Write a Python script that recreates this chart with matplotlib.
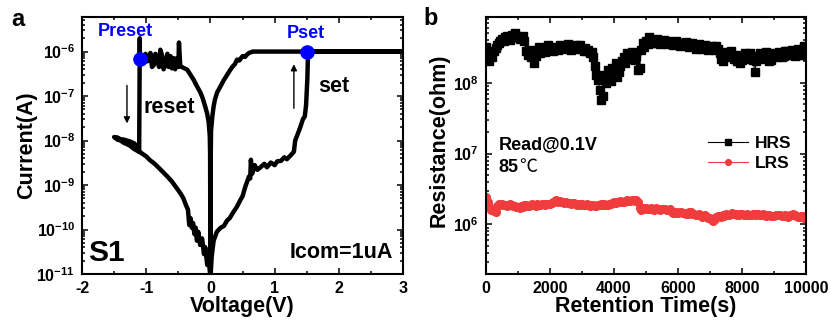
import numpy as np
import matplotlib
matplotlib.use('Agg')
import matplotlib.pyplot as plt
from matplotlib.ticker import FuncFormatter, MultipleLocator, NullFormatter

plt.rcParams['font.family'] = ['Liberation Sans', 'DejaVu Sans']
plt.rcParams['font.weight'] = 'bold'
plt.rcParams['axes.labelweight'] = 'bold'
plt.rcParams['mathtext.fontset'] = 'custom'
plt.rcParams['mathtext.bf'] = 'Liberation Sans:bold'
plt.rcParams['mathtext.rm'] = 'Liberation Sans:bold'
plt.rcParams['axes.unicode_minus'] = False

# ---- panel a : I-V sweep (0 -> 3 V -> 0 -> -1.5 V -> 0) ----
voltage = [0.00, 0.02, 0.05, 0.10, 0.16, 0.21, 0.26, 0.30, 0.36, 0.41,
           0.47, 0.50, 0.545, 0.60, 0.62, 0.63, 0.65, 0.69, 0.73, 0.78,
           0.84, 0.88, 0.94, 1.00, 1.04, 1.10, 1.15, 1.19, 1.24, 1.30,
           1.32, 1.36, 1.40, 1.44, 1.47, 1.49, 1.51, 1.52, 3.00,
           # back from 3 V (LRS)
           0.66, 0.60, 0.56, 0.54, 0.50, 0.45, 0.415, 0.38, 0.34, 0.31,
           0.26, 0.21, 0.16, 0.104, 0.07, 0.05, 0.03, 0.01, 0.005, 0.00,
           # negative sweep, reset
           -0.005, -0.01, -0.026, -0.05, -0.078, -0.12, -0.156, -0.21, -0.26, -0.31,
           -0.36, -0.42, -0.47, -0.49, -0.50, -0.52, -0.55, -0.57, -0.60, -0.62,
           -0.65, -0.67, -0.70, -0.73, -0.75, -0.78, -0.80, -0.83, -0.857, -0.88,
           -0.91, -0.935, -0.96, -0.99, -1.01, -1.04, -1.07, -1.10, -1.10, -1.11,
           -1.15, -1.19, -1.25, -1.30, -1.35, -1.40, -1.45, -1.50,
           # back from -1.5 V (HRS)
           -1.45, -1.40, -1.35, -1.30, -1.25, -1.20, -1.15, -1.09, -1.00, -0.94,
           -0.88, -0.80, -0.73, -0.67, -0.60, -0.53, -0.47, -0.42, -0.38, -0.35,
           -0.33, -0.31, -0.29, -0.27, -0.25, -0.23, -0.21, -0.19, -0.16, -0.13,
           -0.10, -0.08, -0.05, -0.03, 0.00]
current = [8e-12, 2.5e-11, 5.6e-11, 8.9e-11, 1.1e-10, 1.2e-10, 1.6e-10, 1.8e-10, 2.5e-10, 3.2e-10,
           4.7e-10, 5.6e-10, 9.3e-10, 1.55e-9, 1.4e-9, 3.7e-9, 1.8e-9, 2.8e-9, 2.2e-9, 2.5e-9,
           3.0e-9, 2.5e-9, 3.2e-9, 2.8e-9, 3.4e-9, 3.5e-9, 4.2e-9, 3.8e-9, 4.5e-9, 5.6e-9,
           1.0e-8, 1.4e-8, 2.0e-8, 3.0e-8, 3.5e-8, 6.3e-8, 2.5e-7, 1.0e-6, 1.0e-6,
           1.0e-6, 9.3e-7, 8.3e-7, 7.6e-7, 7.9e-7, 6.3e-7, 6.6e-7, 5.2e-7, 4.5e-7, 3.9e-7,
           3.0e-7, 2.3e-7, 1.7e-7, 1.2e-7, 8.3e-8, 5.9e-8, 3.5e-8, 1.7e-8, 5.0e-9, 8e-12,
           5.0e-9, 1.26e-8, 2.5e-8, 4.0e-8, 5.6e-8, 8.9e-8, 1.2e-7, 1.66e-7, 2.3e-7, 3.0e-7,
           3.9e-7, 4.3e-7, 4.7e-7, 1.6e-6, 4.5e-7, 7.1e-7, 4.0e-7, 7.1e-7, 4.2e-7, 7.9e-7,
           4.5e-7, 8.9e-7, 5.0e-7, 4.0e-7, 7.9e-7, 1.1e-6, 4.5e-7, 7.1e-7, 8.9e-7, 5.0e-7,
           4.5e-7, 9.3e-7, 6.3e-7, 6.0e-7, 8.9e-7, 7.1e-7, 7.6e-7, 6.9e-7, 2.0e-6, 5.6e-9,
           7.6e-9, 8.7e-9, 9.5e-9, 1.0e-8, 1.05e-8, 1.07e-8, 1.17e-8, 1.2e-8,
           1.05e-8, 1.0e-8, 8.9e-9, 8.3e-9, 7.6e-9, 6.6e-9, 6.0e-9, 5.4e-9, 4.4e-9, 3.6e-9,
           3.1e-9, 2.4e-9, 1.9e-9, 1.55e-9, 1.2e-9, 8.7e-10, 6.6e-10, 5.0e-10, 3.5e-10, 2.8e-10,
           1.26e-10, 1.8e-10, 1.1e-10, 1.4e-10, 7.9e-11, 1.1e-10, 5.6e-11, 8.9e-11, 4.5e-11, 6.3e-11,
           2.8e-11, 4.0e-11, 1.6e-11, 2.5e-11, 8e-12]

preset_point = (-1.10, 6.9e-7)
pset_point = (1.506, 9.7e-7)

# ---- panel b : retention at 85 C, read every 50 s ----
time_s = np.arange(0, 10001, 50)
hrs = np.array([3.2, 2.6, 2.0, 2.4, 2.3, 2.8, 3.1, 3.4, 3.6, 3.9,
                4.2, 3.9, 4.4, 4.6, 4.3, 4.0, 4.7, 4.4, 5.0, 4.6,
                4.5, 4.1, 4.3, 4.6, 3.9, 2.8, 2.5, 2.9, 2.3, 2.7,
                1.9, 2.4, 2.9, 3.2, 2.6, 2.8, 3.0, 2.7, 3.2, 3.4,
                2.9, 3.1, 2.8, 3.0, 3.2, 2.9, 3.4, 3.1, 3.3, 3.0,
                3.2, 3.5, 3.2, 2.9, 3.1, 3.3, 3.4, 3.0, 3.2, 3.4,
                3.0, 2.8, 3.1, 2.8, 2.9, 2.6, 2.7, 2.3, 1.7, 1.3,
                1.1, 0.8, 0.57, 0.66, 1.3, 1.0, 1.5, 1.2, 1.05, 1.6,
                1.5, 1.9, 1.2, 1.4, 1.7, 2.0, 2.3, 1.9, 2.6, 2.2,
                2.2, 2.7, 2.6, 2.1, 2.4, 1.5, 1.6, 2.9, 3.6, 3.2,
                3.9, 3.5, 4.4, 3.7, 4.0, 3.6, 3.8, 4.1, 3.8, 3.5,
                3.7, 4.0, 3.8, 3.5, 3.9, 3.6, 3.7, 3.4, 3.6, 3.9,
                3.6, 3.3, 3.7, 3.4, 3.6, 3.8, 3.5, 3.2, 3.4, 3.6,
                3.3, 3.0, 3.2, 3.5, 3.3, 3.0, 3.2, 3.4, 3.1, 2.9,
                3.0, 3.3, 3.2, 2.9, 3.3, 3.0, 2.6, 2.2, 2.0, 2.4,
                2.7, 2.3, 2.4, 2.8, 2.5, 2.2, 2.5, 2.0, 2.3, 1.9,
                2.1, 2.4, 2.6, 2.3, 2.2, 2.6, 2.4, 2.1, 1.4, 2.0,
                2.3, 2.6, 2.5, 2.2, 2.4, 2.7, 2.3, 2.0, 2.1, 2.4,
                2.6, 2.3, 2.5, 2.7, 2.6, 2.3, 2.4, 2.8, 2.8, 2.5,
                2.6, 2.9, 2.6, 2.4, 2.7, 3.0, 2.9, 2.5, 2.5, 3.3,
                2.6]) * 1e8
lrs = np.array([2.44, 2.10, 1.76, 1.62, 1.67, 1.55, 1.50, 1.80, 1.96, 1.90,
                1.92, 1.86, 1.90, 1.84, 1.86, 1.92, 1.88, 1.82, 1.84, 1.78,
                1.76, 1.72, 1.82, 1.78, 1.86, 1.90, 1.80, 1.84, 1.86, 1.92,
                1.90, 1.84, 1.92, 1.88, 1.88, 1.94, 1.92, 1.86, 1.96, 1.92,
                1.96, 2.00, 2.05, 2.12, 2.19, 2.10, 2.12, 2.06, 2.10, 2.04,
                2.07, 2.00, 2.02, 1.96, 1.98, 2.02, 1.96, 1.90, 1.92, 1.88,
                1.92, 1.86, 1.88, 1.92, 1.86, 1.82, 1.86, 1.90, 1.84, 1.80,
                1.86, 1.90, 1.96, 1.88, 1.92, 1.86, 1.90, 1.96, 1.96, 2.02,
                2.07, 2.00, 2.05, 2.10, 2.12, 2.06, 2.10, 2.16, 2.19, 2.12,
                2.15, 2.20, 2.19, 2.14, 2.23, 2.10, 1.72, 1.62, 1.70, 1.64,
                1.70, 1.64, 1.66, 1.70, 1.68, 1.62, 1.70, 1.66, 1.66, 1.60,
                1.64, 1.68, 1.66, 1.60, 1.62, 1.66, 1.50, 1.44, 1.46, 1.52,
                1.44, 1.48, 1.50, 1.44, 1.46, 1.40, 1.42, 1.48, 1.48, 1.42,
                1.40, 1.34, 1.36, 1.40, 1.34, 1.28, 1.30, 1.34, 1.28, 1.24,
                1.22, 1.14, 1.12, 1.20, 1.26, 1.30, 1.32, 1.28, 1.36, 1.32,
                1.40, 1.36, 1.38, 1.42, 1.44, 1.40, 1.40, 1.36, 1.38, 1.42,
                1.39, 1.34, 1.37, 1.40, 1.34, 1.38, 1.37, 1.42, 1.42, 1.38,
                1.40, 1.36, 1.37, 1.40, 1.36, 1.32, 1.34, 1.38, 1.32, 1.30,
                1.30, 1.34, 1.34, 1.38, 1.34, 1.30, 1.30, 1.34, 1.30, 1.27,
                1.34, 1.38, 1.39, 1.34, 1.32, 1.28, 1.27, 1.30, 1.30, 1.24,
                1.20]) * 1e6

fig = plt.figure(figsize=(8.31, 3.26), dpi=100)
ax1 = fig.add_axes([0.0987, 0.1595, 0.3863, 0.7885])
ax2 = fig.add_axes([0.5848, 0.1595, 0.3851, 0.7885])


def sci(v, pos):
    return r'$\mathbf{10^{%d}}$' % round(np.log10(v))


# panel a
ax1.plot(voltage, current, color='black', lw=3.2, solid_joinstyle='round')
ax1.plot(*preset_point, 'o', color='blue', ms=9.5)
ax1.plot(*pset_point, 'o', color='blue', ms=9.5)
ax1.set_yscale('log')
ax1.set_xlim(-2, 3)
ax1.set_ylim(1e-11, 6e-6)
ax1.xaxis.set_major_locator(MultipleLocator(1))
ax1.xaxis.set_minor_locator(MultipleLocator(0.5))
ax1.set_xlabel('Voltage(V)', fontsize=15.5)
ax1.set_ylabel('Current(A)', fontsize=15.5)
ax1.xaxis.set_label_coords(0.5, -0.085)
ax1.yaxis.set_label_coords(-0.14, 0.5)

ax1.text(-1.33, 2.8e-6, 'Preset', color='blue', fontsize=13, ha='center', va='center')
ax1.text(1.49, 2.6e-6, 'Pset', color='blue', fontsize=13, ha='center', va='center')
ax1.text(-1.05, 5.4e-8, 'reset', fontsize=15.5, ha='left', va='center')
ax1.text(1.68, 1.6e-7, 'set', fontsize=15.5, ha='left', va='center')
ax1.text(0.02, 0.08, 'S1', fontsize=21.5, transform=ax1.transAxes, ha='left', va='center')
ax1.text(0.97, 0.083, 'Icom=1uA', fontsize=15.5, transform=ax1.transAxes, ha='right', va='center')
ax1.annotate('', xy=(-1.30, 2.1e-8), xytext=(-1.30, 2.0e-7),
             arrowprops=dict(arrowstyle='-|>', color='black', lw=1, mutation_scale=9))
ax1.annotate('', xy=(1.30, 6.0e-7), xytext=(1.30, 4.6e-8),
             arrowprops=dict(arrowstyle='-|>', color='black', lw=1, mutation_scale=9))

# panel b
ax2.plot(time_s, hrs, '-s', color='black', lw=0.8, ms=5.5, label='HRS')
ax2.plot(time_s, lrs, '-o', color='#F03C3C', lw=0.8, ms=5.5, label='LRS')
ax2.set_yscale('log')
ax2.set_xlim(0, 10000)
ax2.set_ylim(2e5, 8.5e8)
ax2.xaxis.set_major_locator(MultipleLocator(2000))
ax2.xaxis.set_minor_locator(MultipleLocator(1000))
ax2.set_xlabel('Retention Time(s)', fontsize=15.5)
ax2.set_ylabel('Resistance(ohm)', fontsize=15.5)
ax2.xaxis.set_label_coords(0.5, -0.085)
ax2.yaxis.set_label_coords(-0.113, 0.52)
ax2.text(0.04, 0.502, 'Read@0.1V', fontsize=13, transform=ax2.transAxes, ha='left', va='center')
t85 = ax2.text(0.04, 0.416, '85', fontsize=13, transform=ax2.transAxes, ha='left', va='center')
ax2.annotate('℃', xy=(1, 0), xycoords=t85, va='bottom', ha='left', fontsize=13,
             fontweight='normal', family=['Noto Sans CJK SC', 'DejaVu Sans'])
ax2.legend(loc='upper right', bbox_to_anchor=(0.955, 0.536), frameon=False, fontsize=12.5,
           borderpad=0, borderaxespad=0, handlelength=2.3, handletextpad=0.4,
           labelspacing=0.27, markerscale=0.75)

for ax in (ax1, ax2):
    ax.yaxis.set_major_formatter(FuncFormatter(sci))
    ax.yaxis.set_minor_formatter(NullFormatter())
    ax.tick_params(which='both', direction='in', top=True, right=True, width=1.1, labelsize=11.5)
    ax.tick_params(which='major', length=4, pad=5)
    ax.tick_params(which='minor', length=2.2)
    for s in ax.spines.values():
        s.set_linewidth(1.5)

fig.text(0.014, 0.92, 'a', fontsize=17, ha='left', va='baseline')
fig.text(0.509, 0.923, 'b', fontsize=17, ha='left', va='baseline')

fig.savefig('out.png', dpi=100)
